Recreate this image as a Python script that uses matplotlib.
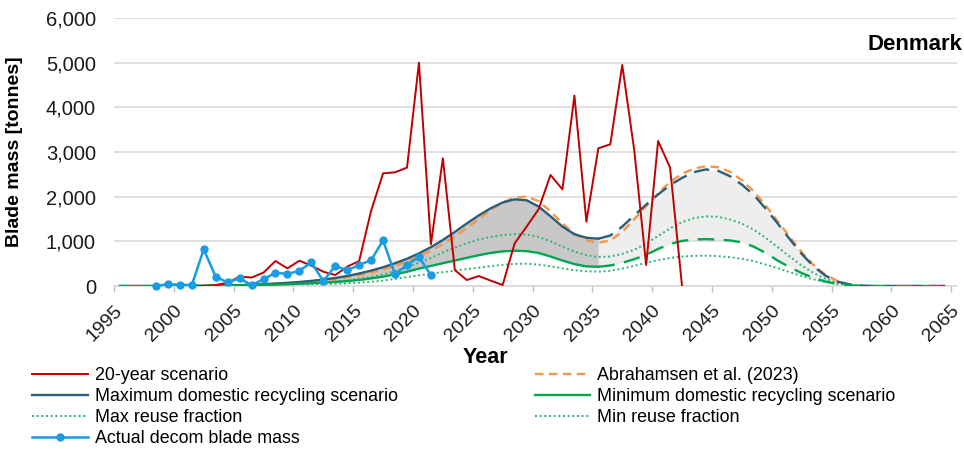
import numpy as np
import matplotlib.pyplot as plt
from matplotlib.ticker import FuncFormatter

plt.rcParams['font.family'] = ['Liberation Sans', 'DejaVu Sans']

years = np.arange(1995, 2065)
split_year = 2035

# 20-year scenario
red_years = np.arange(2000, 2043)
red_vals = [0, 0, 0, 20, 75, 210, 190, 300, 560, 395,
            567, 455, 320, 246, 433, 560, 1686, 2522, 2545, 2650,
            5000, 933, 2858, 358, 134, 224, 120, 22, 955, 1328,
            1716, 2485, 2164, 4261, 1440, 3082, 3172, 4947, 3045, 470,
            3246, 2650, 0]

# actual decommissioned blade mass
blue_years = np.arange(1998, 2022)
blue_vals = [0, 40, 30, 20, 820, 210, 80, 170, 20, 150,
             300, 270, 340, 530, 110, 450, 350, 470, 580, 1020,
             260, 470, 650, 240]

max_domestic = [0, 0, 0, 0, 0, 0, 0, 5, 10, 15,
                20, 30, 40, 55, 70, 90, 115, 145, 180, 225,
                280, 345, 420, 510, 610, 730, 870, 1030, 1210, 1400,
                1580, 1740, 1870, 1940, 1920, 1780, 1560, 1330, 1160, 1080,
                1060, 1130, 1330, 1580, 1820, 2050, 2260, 2420, 2550, 2610,
                2580, 2460, 2270, 2040, 1730, 1400, 1050, 720, 440, 230,
                100, 35, 10, 0, 0, 0, 0, 0, 0, 0]

abrahamsen = [0, 0, 0, 0, 0, 0, 0, 5, 10, 15,
              20, 30, 40, 50, 65, 80, 100, 125, 155, 195,
              240, 300, 370, 450, 550, 660, 790, 940, 1110, 1300,
              1500, 1700, 1870, 1980, 2000, 1900, 1670, 1400, 1170, 1020,
              970, 1020, 1210, 1490, 1790, 2080, 2330, 2510, 2630, 2680,
              2660, 2560, 2370, 2120, 1800, 1450, 1100, 760, 470, 250,
              110, 30, 0, 0, 0, 0, 0, 0, 0, 0]

min_domestic = [0, 0, 0, 0, 0, 0, 5, 5, 10, 10,
                15, 20, 25, 30, 40, 50, 60, 75, 90, 110,
                135, 170, 210, 260, 320, 390, 450, 510, 570, 630,
                690, 740, 775, 790, 780, 740, 660, 570, 490, 440,
                430, 460, 520, 600, 700, 830, 940, 1010, 1040, 1050,
                1040, 1020, 980, 880, 740, 570, 420, 290, 180, 100,
                45, 15, 5, 0, 0, 0, 0, 0, 0, 0]

max_reuse = [0, 0, 0, 0, 0, 0, 0, 0, 0, 0,
             10, 15, 20, 30, 40, 50, 65, 80, 100, 125,
             160, 200, 260, 330, 420, 520, 630, 750, 860, 960,
             1040, 1100, 1140, 1160, 1150, 1100, 1000, 880, 770, 690,
             650, 660, 720, 810, 950, 1120, 1290, 1430, 1520, 1560,
             1550, 1490, 1400, 1260, 1080, 870, 660, 460, 290, 160,
             70, 25, 5, 0, 0, 0, 0, 0, 0, 0]

min_reuse = [0, 0, 0, 0, 0, 0, 0, 0, 0, 0,
             5, 8, 10, 15, 20, 25, 30, 40, 50, 60,
             75, 95, 120, 160, 200, 240, 275, 310, 345, 380,
             410, 445, 475, 495, 500, 480, 440, 395, 355, 330,
             320, 340, 390, 450, 520, 580, 630, 660, 675, 680,
             670, 645, 610, 555, 480, 400, 310, 225, 150, 90,
             45, 15, 5, 0, 0, 0, 0, 0, 0, 0]

c_red = '#c00000'
c_teal = '#2b5d78'
c_orange = '#f79646'
c_green = '#00a651'
c_dot = '#2db56e'
c_blue = '#1a9be3'

max_domestic = np.array(max_domestic, dtype=float)
min_domestic = np.array(min_domestic, dtype=float)
early = years <= split_year
late = years >= split_year

fig = plt.figure(figsize=(9.64, 4.49), dpi=100)
ax = fig.add_axes([0.1183, 0.363, 0.8745, 0.597])

# shaded band between the two domestic recycling scenarios
ax.fill_between(years[early], min_domestic[early], max_domestic[early],
                color='#c8c8c8', lw=0, zorder=1)
ax.fill_between(years[late], min_domestic[late], max_domestic[late],
                color='#eeeeee', lw=0, zorder=1)

ax.plot(years, max_reuse, color=c_dot, lw=1.4, ls=(0, (1, 1.4)), zorder=2,
        label='Max reuse fraction')
ax.plot(years, min_reuse, color=c_dot, lw=1.4, ls=(0, (1, 1.4)), zorder=2,
        label='Min reuse fraction')
ax.plot(years, abrahamsen, color=c_orange, lw=1.7, ls=(0, (3.6, 2.3)), zorder=3,
        label='Abrahamsen et al. (2023)')
ax.plot(years[early], max_domestic[early], color=c_teal, lw=1.7, zorder=4,
        label='Maximum domestic recycling scenario')
ax.plot(years[late], max_domestic[late], color=c_teal, lw=1.7, ls=(0, (6.5, 3.5)), zorder=4)
ax.plot(years[early], min_domestic[early], color=c_green, lw=1.7, zorder=4,
        label='Minimum domestic recycling scenario')
ax.plot(years[late], min_domestic[late], color=c_green, lw=1.7, ls=(0, (7, 4)), zorder=4)
ax.plot(red_years, red_vals, color=c_red, lw=1.4, zorder=5, label='20-year scenario')
ax.plot(blue_years, blue_vals, color=c_blue, lw=1.8, marker='o', ms=5, zorder=6,
        clip_on=False, label='Actual decom blade mass')

ax.set_xlim(1994.5, 2064.5)
ax.set_ylim(0, 6000)
ax.set_yticks(np.arange(0, 6001, 1000))
ax.yaxis.set_major_formatter(FuncFormatter(lambda v, p: f'{v:,.0f}'))
ax.tick_params(axis='y', length=0, pad=13, labelsize=14.5, labelcolor='#1a1a1a')

ax.set_xticks(np.arange(1995, 2066, 5))
ax.set_xticks(np.arange(1994.5, 2065, 5), minor=True)
ax.tick_params(axis='x', which='major', length=0, pad=16, labelsize=14, labelcolor='#1a1a1a')
ax.tick_params(axis='x', which='minor', length=4, width=1, color='#bfbfbf', direction='out')
for lbl in ax.get_xticklabels():
    lbl.set_rotation(45)
    lbl.set_ha('right')
    lbl.set_va('center')
    lbl.set_rotation_mode('anchor')

ax.grid(axis='y', color='#d9d9d9', lw=1.2)
ax.set_axisbelow(True)
for side in ['top', 'right', 'left']:
    ax.spines[side].set_visible(False)
ax.spines['bottom'].set_color('#d9d9d9')
ax.spines['bottom'].set_linewidth(1.2)

ax.set_ylabel('Blade mass [tonnes]', fontsize=14, fontweight='bold')
ax.yaxis.set_label_coords(-0.108, 0.5)
ax.set_xlabel('Year', fontsize=15.5, fontweight='bold')
ax.xaxis.set_label_coords(0.44, -0.229)

fig.text(962 / 964, 1 - 45 / 449, 'Denmark', fontsize=16, fontweight='bold',
         ha='right', va='center')

# legend order: two columns, filled column by column
h, l = ax.get_legend_handles_labels()
lookup = dict(zip(l, h))
order = ['20-year scenario', 'Maximum domestic recycling scenario', 'Max reuse fraction',
         'Actual decom blade mass', 'Abrahamsen et al. (2023)',
         'Minimum domestic recycling scenario', 'Min reuse fraction']
fig.legend([lookup[k] for k in order], order, ncol=2, loc='upper left',
           bbox_to_anchor=(32 / 964, 1 - 367 / 449), frameon=False, fontsize=12.9,
           handlelength=3.1, handletextpad=0.4, columnspacing=7.65, labelspacing=0.23,
           borderpad=0, borderaxespad=0, numpoints=1)

fig.savefig('out.png', dpi=100)
